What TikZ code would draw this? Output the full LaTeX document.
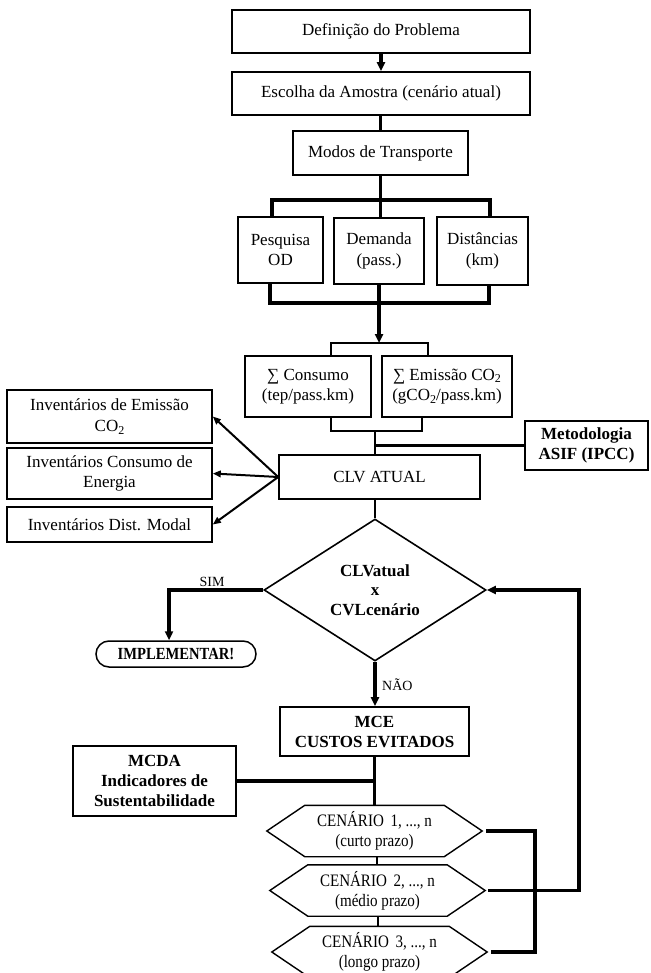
\documentclass[tikz,border=0pt]{standalone}
\usepackage{fontspec}
\setmainfont{Liberation Serif}
\newfontfamily\narrowserif{Liberation Serif}[FakeStretch=0.86]
\usetikzlibrary{arrows.meta,shapes.geometric,shapes.misc}
\newcommand\lowtwo{\raisebox{-0.35ex}{\fontsize{12}{12}\selectfont 2}}

\begin{document}
\begin{tikzpicture}[x=1pt,y=-1pt,
  every node/.style={font=\fontsize{17}{20.5}\selectfont},
  box/.style={draw,line width=1.6pt,rectangle,inner sep=0pt,align=center},
  hexnode/.style={inner sep=0pt,align=center,minimum width=215pt,minimum height=51pt,
    font=\narrowserif\fontsize{17.5}{20}\selectfont},
  hexline/.style={line width=1.4pt},
  thick link/.style={line width=3.3pt},
  mid link/.style={line width=2.7pt},
  thin link/.style={line width=2.1pt},
  arrowtip/.style={-{Triangle[length=9pt,width=8pt]}},
  small arrow/.style={line width=2pt,-{Triangle[length=8pt,width=6.5pt]}},
  label/.style={font=\fontsize{14}{16}\selectfont,inner sep=0pt}
]
\useasboundingbox (0,0) rectangle (650,973);

% upper chain
\node[box,minimum width=298pt,minimum height=43pt] (def) at (381,31.5) {Definição do Problema};
\node[box,minimum width=298pt,minimum height=43pt] (esc) at (381,93.5) {Escolha da Amostra (cenário atual)};
\node[box,minimum width=175pt,minimum height=44pt] (modos) at (380.5,153) {Modos de Transporte};

\node[box,minimum width=85pt,minimum height=66pt] (pesq) at (280.5,250) {Pesquisa\\OD};
\node[box,minimum width=90pt,minimum height=66pt] (dem) at (379,251) {Demanda\\(pass.)};
\node[box,minimum width=91pt,minimum height=68pt] (dist) at (482.5,251) {Distâncias\\(km)};

\node[box,minimum width=126pt,minimum height=61pt] (cons) at (308,386.5) {∑ Consumo\\(tep/pass.km)};
\node[box,minimum width=130pt,minimum height=61pt] (emis) at (447,386.5) {∑ Emissão CO\lowtwo\\(gCO\lowtwo/pass.km)};

\node[box,minimum width=201pt,minimum height=44pt] (clv) at (379.5,477) {CLV ATUAL};
\node[box,minimum width=123pt,minimum height=49pt,font=\bfseries\fontsize{17}{20}\selectfont] (meto) at (586.5,445.5) {Metodologia\\ASIF (IPCC)};

\node[box,minimum width=205pt,minimum height=53pt] (inv1) at (109.5,416.5) {Inventários de Emissão\\CO\lowtwo};
\node[box,minimum width=205pt,minimum height=51pt] (inv2) at (109.5,473.5) {Inventários Consumo de\\Energia};
\node[box,minimum width=205pt,minimum height=35pt] (inv3) at (109.5,524.5) {Inventários Dist. Modal};

% decision
\node[draw,line width=1.6pt,diamond,aspect=1.56,inner sep=0pt,minimum width=222pt,minimum height=142pt,
  align=center,font=\bfseries\fontsize{17}{19.5}\selectfont] (dia) at (375,590) {CLVatual\\x\\CVLcenário};
\node[draw,line width=1.5pt,rounded rectangle,inner sep=0pt,minimum width=160pt,minimum height=26pt,
  font=\narrowserif\bfseries\fontsize{17}{20}\selectfont] (impl) at (176,654) {IMPLEMENTAR!};

\node[box,minimum width=189pt,minimum height=49pt,font=\bfseries\fontsize{17}{20}\selectfont] (mce) at (374.5,731.5) {MCE\\CUSTOS EVITADOS};
\node[box,minimum width=163pt,minimum height=70pt,font=\bfseries\fontsize{17}{20}\selectfont] (mcda) at (154.5,781) {MCDA\\Indicadores de\\Sustentabilidade};

% scenarios
\node[hexnode] (hex1) at (374.5,831) {CENÁRIO\, 1, ..., n\\(curto prazo)};
\node[hexnode] (hex2) at (377.5,890.5) {CENÁRIO\, 2, ..., n\\(médio prazo)};
\node[hexnode] (hex3) at (379.5,952) {CENÁRIO\, 3, ..., n\\(longo prazo)};
\foreach \h in {hex1,hex2,hex3}{
  \draw[hexline] ([xshift=38pt]\h.north west) -- ([xshift=-38pt]\h.north east) -- (\h.east)
    -- ([xshift=-38pt]\h.south east) -- ([xshift=38pt]\h.south west) -- (\h.west) -- cycle;
}

% labels
\node[label] (sim) at (212,582) {SIM};
\node[label,anchor=west] (nao) at (382,685) {NÃO};

% routing points
\coordinate (bl) at (272,200);
\coordinate (br) at (490,200);
\coordinate (jl) at (270,303);
\coordinate (jr) at (489,303);
\coordinate (sumtop) at (379,343);
\coordinate (stl) at (331,343);
\coordinate (str) at (428,343);
\coordinate (sbl) at (331,431);
\coordinate (sbr) at (422,431);
\coordinate (sp) at (375,431);
\coordinate (simc) at (169,590);
\coordinate (rb) at (535,0);
\coordinate (fb) at (579,0);

% connectors
\draw[thick link,arrowtip] (def) -- (esc);
\draw[thick link] (modos.north |- esc.south) -- (modos.north);
\draw[thick link] (modos.south) -- (modos.south |- dem.north);
\draw[thick link] (bl |- pesq.north) -- (bl) -- (br) -- (br |- dist.north);
\draw[thick link] (jl |- pesq.south) -- (jl) -- (jr) -- (jr |- dist.south);
\draw[thick link] (dem.south) -- (dem.south |- jl);
\draw[thick link,arrowtip] (dem.south |- jl) -- (sumtop);
\draw[mid link] (stl |- cons.north) -- (stl) -- (str) -- (str |- emis.north);
\draw[mid link] (sbl |- cons.south) -- (sbl) -- (sbr) -- (sbr |- emis.south);
\draw[thin link] (sp) -- (sp |- clv.north);
\draw[thin link] (meto.west) -- (meto.west -| sp);
\draw[small arrow] (clv.west) -- (inv1.east);
\draw[small arrow] (clv.west) -- (inv2.east);
\draw[small arrow] (clv.west) -- (inv3.east);
\draw[thin link] (sp |- clv.south) -- (dia.north);
\draw[thick link,arrowtip] (dia.west) -- (simc) -- (simc |- impl.north);
\draw[thick link,arrowtip] (dia.south) -- (dia.south |- mce.north);
\draw[thin link] (mce.south) -- (mce.south |- hex1.north);
\draw[thick link] (mcda.east) -- (mcda.east -| mce.south);
\draw[thin link] (hex1.south -| 377,0) -- (hex2.north -| 377,0);
\draw[thin link] (hex2.south -| 378,0) -- (hex3.north -| 378,0);
\draw[thick link] ([xshift=4pt]hex1.east) -- (hex1.east -| rb) -- (hex3.east -| rb) -- ([xshift=4pt]hex3.east);
\draw[thick link,arrowtip] ([xshift=3pt]hex2.east) -- (hex2.east -| fb) -- (dia.east -| fb) -- (dia.east);
\end{tikzpicture}
\end{document}
